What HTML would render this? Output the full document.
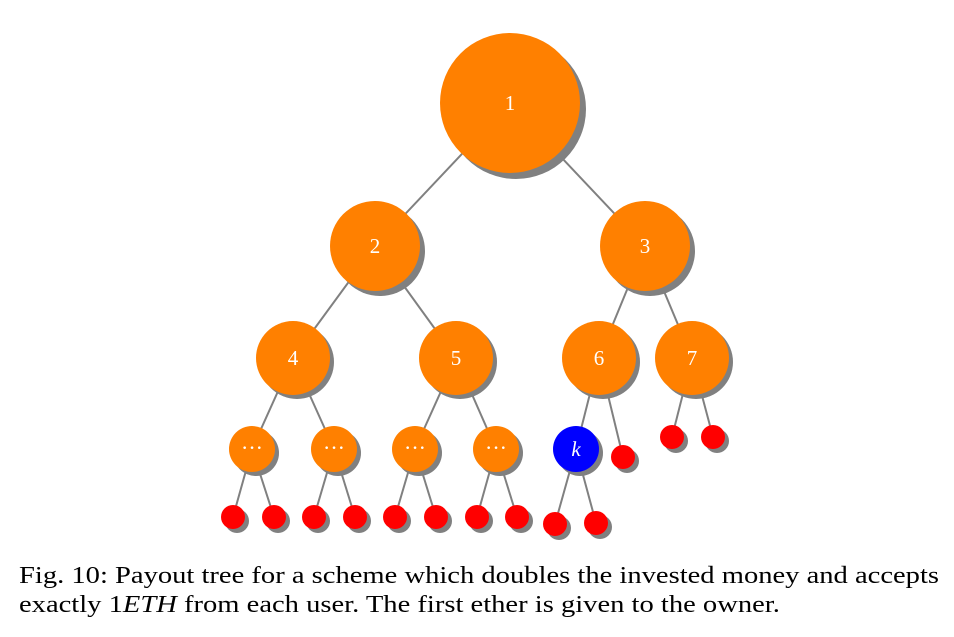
<!DOCTYPE html>
<html><head><meta charset="utf-8"><style>
body{margin:0;background:#fff;width:954px;height:637px;overflow:hidden}
svg{position:absolute;left:0;top:0}
.cap{position:absolute;left:19px;top:562px;font-family:"Liberation Serif",serif;font-size:24px;line-height:29px;color:#000;white-space:nowrap;transform:scaleX(1.19);transform-origin:0 0}
</style></head><body>
<svg width="954" height="637" xmlns="http://www.w3.org/2000/svg">
<g stroke="#808080" stroke-width="2">
<line x1="510" y1="103" x2="375" y2="246"/><line x1="510" y1="103" x2="645" y2="246"/>
<line x1="375" y1="246" x2="293" y2="358"/><line x1="375" y1="246" x2="456" y2="358"/>
<line x1="645" y1="246" x2="599" y2="358"/><line x1="645" y1="246" x2="692" y2="358"/>
<line x1="293" y1="358" x2="252" y2="449"/><line x1="293" y1="358" x2="334" y2="449"/>
<line x1="456" y1="358" x2="415" y2="449"/><line x1="456" y1="358" x2="496" y2="449"/>
<line x1="599" y1="358" x2="576" y2="449"/><line x1="599" y1="358" x2="623" y2="457"/>
<line x1="692" y1="358" x2="672" y2="437"/><line x1="692" y1="358" x2="713" y2="437"/>
<line x1="252" y1="449" x2="233" y2="517"/><line x1="252" y1="449" x2="274" y2="517"/>
<line x1="334" y1="449" x2="314" y2="517"/><line x1="334" y1="449" x2="355" y2="517"/>
<line x1="415" y1="449" x2="395" y2="517"/><line x1="415" y1="449" x2="436" y2="517"/>
<line x1="496" y1="449" x2="477" y2="517"/><line x1="496" y1="449" x2="517" y2="517"/>
<line x1="576" y1="449" x2="555" y2="524"/><line x1="576" y1="449" x2="596" y2="523"/>
</g>
<g fill="#808080">
<circle cx="516" cy="109" r="70"/>
<circle cx="380" cy="251" r="45"/><circle cx="650" cy="251" r="45"/>
<circle cx="297" cy="362" r="37"/><circle cx="460" cy="362" r="37"/><circle cx="603" cy="362" r="37"/><circle cx="696" cy="362" r="37"/>
<circle cx="256" cy="453" r="23"/><circle cx="338" cy="453" r="23"/><circle cx="419" cy="453" r="23"/><circle cx="500" cy="453" r="23"/><circle cx="580" cy="453" r="23"/>
<circle cx="237" cy="521" r="12"/><circle cx="278" cy="521" r="12"/><circle cx="318" cy="521" r="12"/><circle cx="359" cy="521" r="12"/><circle cx="399" cy="521" r="12"/><circle cx="440" cy="521" r="12"/><circle cx="481" cy="521" r="12"/><circle cx="521" cy="521" r="12"/>
<circle cx="559" cy="528" r="12"/><circle cx="600" cy="527" r="12"/><circle cx="627" cy="461" r="12"/><circle cx="676" cy="441" r="12"/><circle cx="717" cy="441" r="12"/>
</g>
<g fill="#ff8000">
<circle cx="510" cy="103" r="70"/>
<circle cx="375" cy="246" r="45"/><circle cx="645" cy="246" r="45"/>
<circle cx="293" cy="358" r="37"/><circle cx="456" cy="358" r="37"/><circle cx="599" cy="358" r="37"/><circle cx="692" cy="358" r="37"/>
<circle cx="252" cy="449" r="23"/><circle cx="334" cy="449" r="23"/><circle cx="415" cy="449" r="23"/><circle cx="496" cy="449" r="23"/>
</g>
<circle cx="576" cy="449" r="23" fill="#0000ff"/>
<g fill="#ff0000">
<circle cx="233" cy="517" r="12"/><circle cx="274" cy="517" r="12"/><circle cx="314" cy="517" r="12"/><circle cx="355" cy="517" r="12"/><circle cx="395" cy="517" r="12"/><circle cx="436" cy="517" r="12"/><circle cx="477" cy="517" r="12"/><circle cx="517" cy="517" r="12"/>
<circle cx="555" cy="524" r="12"/><circle cx="596" cy="523" r="12"/><circle cx="623" cy="457" r="12"/><circle cx="672" cy="437" r="12"/><circle cx="713" cy="437" r="12"/>
</g>
<g fill="#fff" font-family="Liberation Serif, serif" font-size="21" text-anchor="middle">
<text x="510" y="110">1</text><text x="375" y="253">2</text><text x="645" y="253">3</text>
<text x="293" y="365">4</text><text x="456" y="365">5</text><text x="599" y="365">6</text><text x="692" y="365">7</text>
<text x="252" y="455" font-size="22">···</text><text x="334" y="455" font-size="22">···</text><text x="415" y="455" font-size="22">···</text><text x="496" y="455" font-size="22">···</text>
<text x="576" y="456" font-style="italic">k</text>
</g>
</svg>
<div class="cap">Fig. 10: Payout tree for a scheme which doubles the invested money and accepts<br>exactly 1<i>ETH</i> from each user. The first ether is given to the owner.</div>
</body></html>
